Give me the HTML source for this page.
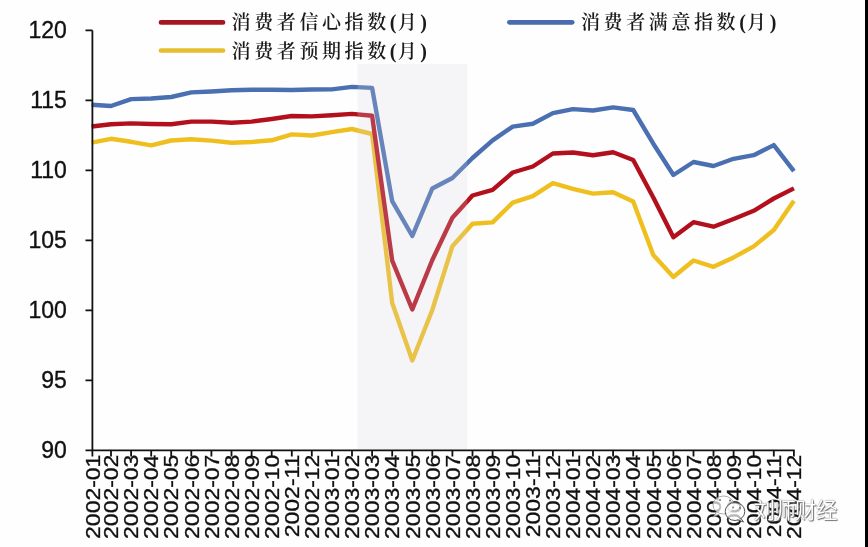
<!DOCTYPE html>
<html><head><meta charset="utf-8"><style>
html,body{margin:0;padding:0;background:#fff;}
body{width:868px;height:547px;overflow:hidden;position:relative;}
.pp{letter-spacing:1.2px;font-size:20px;}
svg{display:block;position:absolute;left:0;top:0;}
.ax{font-family:"Liberation Sans",Arial,sans-serif;font-size:23px;fill:#111;stroke:#111;stroke-width:0.35px;}
.lg{font-family:"Liberation Serif","Noto Serif CJK SC",serif;font-size:19px;fill:#1a1a1a;letter-spacing:3.6px;font-weight:600;}
.wm{position:absolute;left:753.5px;top:493.8px;font-family:"Noto Sans CJK SC",sans-serif;font-size:21.5px;line-height:30px;color:#fff;
 text-shadow:0 0 1px #555,1px 1px 1px #777;letter-spacing:-0.7px;}
</style></head><body>
<svg width="868" height="547" viewBox="0 0 868 547">
<rect x="0" y="0" width="868" height="547" fill="#fefefe"/>
<rect x="865" y="0" width="3" height="547" fill="#000"/>
<g fill="none" stroke-width="4.4" stroke-linejoin="round" stroke-linecap="butt">
<polyline points="91.6,142.6 111.0,138.8 131.1,141.8 151.2,145.3 171.2,140.5 191.3,139.3 211.4,140.6 231.5,142.7 251.6,142.0 271.7,140.3 291.8,134.4 311.8,135.5 331.9,132.2 352.0,129.0 372.1,134.0 392.2,303.0 412.3,360.5 432.3,310.0 452.4,246.2 472.5,223.8 492.6,222.4 512.7,202.6 532.8,196.2 552.9,183.2 572.9,188.8 593.0,193.6 613.1,192.3 633.2,201.5 653.3,255.0 673.4,277.0 693.5,260.5 713.5,266.8 733.6,257.4 753.7,246.4 773.8,230.0 793.9,200.7" stroke="#efbf20"/>
<polyline points="91.6,126.5 111.0,124.3 131.1,123.4 151.2,124.0 171.2,124.3 191.3,121.6 211.4,121.6 231.5,122.8 251.6,121.6 271.7,119.0 291.8,116.0 311.8,116.4 331.9,115.2 352.0,113.9 372.1,115.7 392.2,260.7 412.3,309.5 432.3,260.0 452.4,217.8 472.5,195.5 492.6,189.8 512.7,172.5 532.8,166.5 552.9,153.5 572.9,152.5 593.0,155.2 613.1,152.2 633.2,160.0 653.3,197.5 673.4,237.3 693.5,222.2 713.5,226.7 733.6,219.0 753.7,210.8 773.8,198.5 793.9,188.4" stroke="#b3101e"/>
<polyline points="91.6,104.8 111.0,106.0 131.1,99.1 151.2,98.5 171.2,97.0 191.3,92.4 211.4,91.5 231.5,90.2 251.6,89.8 271.7,89.8 291.8,90.0 311.8,89.5 331.9,89.4 352.0,86.9 372.1,87.9 392.2,201.2 412.3,236.0 432.3,188.5 452.4,178.0 472.5,158.0 492.6,140.4 512.7,126.6 532.8,123.8 552.9,113.1 572.9,109.1 593.0,110.5 613.1,107.4 633.2,110.0 653.3,143.7 673.4,175.0 693.5,162.0 713.5,166.0 733.6,158.8 753.7,155.2 773.8,145.1 793.9,171.1" stroke="#4a70b2"/>
</g>
<rect x="357.6" y="64" width="109.6" height="386" fill="#d4d2dc" fill-opacity="0.22"/>
<path d="M92.4 30.4V456.5M85.5 450.4H794.8M85.5 30.4H92.5M85.5 100.4H92.5M85.5 170.3H92.5M85.5 240.4H92.5M85.5 310.4H92.5M85.5 380.3H92.5M85.5 450.4H92.5M111.0 450.4V456.5M131.1 450.4V456.5M151.2 450.4V456.5M171.2 450.4V456.5M191.3 450.4V456.5M211.4 450.4V456.5M231.5 450.4V456.5M251.6 450.4V456.5M271.7 450.4V456.5M291.8 450.4V456.5M311.8 450.4V456.5M331.9 450.4V456.5M352.0 450.4V456.5M372.1 450.4V456.5M392.2 450.4V456.5M412.3 450.4V456.5M432.3 450.4V456.5M452.4 450.4V456.5M472.5 450.4V456.5M492.6 450.4V456.5M512.7 450.4V456.5M532.8 450.4V456.5M552.9 450.4V456.5M572.9 450.4V456.5M593.0 450.4V456.5M613.1 450.4V456.5M633.2 450.4V456.5M653.3 450.4V456.5M673.4 450.4V456.5M693.5 450.4V456.5M713.5 450.4V456.5M733.6 450.4V456.5M753.7 450.4V456.5M773.8 450.4V456.5M793.9 450.4V456.5" stroke="#111" stroke-width="1.8" fill="none"/>
<g class="ax"><text x="66.8" y="38.4" text-anchor="end">120</text><text x="66.8" y="108.4" text-anchor="end">115</text><text x="66.8" y="178.3" text-anchor="end">110</text><text x="66.8" y="248.4" text-anchor="end">105</text><text x="66.8" y="318.4" text-anchor="end">100</text><text x="66.8" y="388.3" text-anchor="end">95</text><text x="66.8" y="458.4" text-anchor="end">90</text></g>
<g class="ax"><text transform="translate(99.6,454.6) rotate(-90) scale(1,0.91)" text-anchor="end">2002-01</text><text transform="translate(118.2,454.6) rotate(-90) scale(1,0.91)" text-anchor="end">2002-02</text><text transform="translate(138.3,454.6) rotate(-90) scale(1,0.91)" text-anchor="end">2002-03</text><text transform="translate(158.4,454.6) rotate(-90) scale(1,0.91)" text-anchor="end">2002-04</text><text transform="translate(178.4,454.6) rotate(-90) scale(1,0.91)" text-anchor="end">2002-05</text><text transform="translate(198.5,454.6) rotate(-90) scale(1,0.91)" text-anchor="end">2002-06</text><text transform="translate(218.6,454.6) rotate(-90) scale(1,0.91)" text-anchor="end">2002-07</text><text transform="translate(238.7,454.6) rotate(-90) scale(1,0.91)" text-anchor="end">2002-08</text><text transform="translate(258.8,454.6) rotate(-90) scale(1,0.91)" text-anchor="end">2002-09</text><text transform="translate(278.9,454.6) rotate(-90) scale(1,0.91)" text-anchor="end">2002-10</text><text transform="translate(298.9,454.6) rotate(-90) scale(1,0.91)" text-anchor="end">2002-11</text><text transform="translate(319.0,454.6) rotate(-90) scale(1,0.91)" text-anchor="end">2002-12</text><text transform="translate(339.1,454.6) rotate(-90) scale(1,0.91)" text-anchor="end">2003-01</text><text transform="translate(359.2,454.6) rotate(-90) scale(1,0.91)" text-anchor="end">2003-02</text><text transform="translate(379.3,454.6) rotate(-90) scale(1,0.91)" text-anchor="end">2003-03</text><text transform="translate(399.4,454.6) rotate(-90) scale(1,0.91)" text-anchor="end">2003-04</text><text transform="translate(419.5,454.6) rotate(-90) scale(1,0.91)" text-anchor="end">2003-05</text><text transform="translate(439.5,454.6) rotate(-90) scale(1,0.91)" text-anchor="end">2003-06</text><text transform="translate(459.6,454.6) rotate(-90) scale(1,0.91)" text-anchor="end">2003-07</text><text transform="translate(479.7,454.6) rotate(-90) scale(1,0.91)" text-anchor="end">2003-08</text><text transform="translate(499.8,454.6) rotate(-90) scale(1,0.91)" text-anchor="end">2003-09</text><text transform="translate(519.9,454.6) rotate(-90) scale(1,0.91)" text-anchor="end">2003-10</text><text transform="translate(540.0,454.6) rotate(-90) scale(1,0.91)" text-anchor="end">2003-11</text><text transform="translate(560.1,454.6) rotate(-90) scale(1,0.91)" text-anchor="end">2003-12</text><text transform="translate(580.1,454.6) rotate(-90) scale(1,0.91)" text-anchor="end">2004-01</text><text transform="translate(600.2,454.6) rotate(-90) scale(1,0.91)" text-anchor="end">2004-02</text><text transform="translate(620.3,454.6) rotate(-90) scale(1,0.91)" text-anchor="end">2004-03</text><text transform="translate(640.4,454.6) rotate(-90) scale(1,0.91)" text-anchor="end">2004-04</text><text transform="translate(660.5,454.6) rotate(-90) scale(1,0.91)" text-anchor="end">2004-05</text><text transform="translate(680.6,454.6) rotate(-90) scale(1,0.91)" text-anchor="end">2004-06</text><text transform="translate(700.7,454.6) rotate(-90) scale(1,0.91)" text-anchor="end">2004-07</text><text transform="translate(720.7,454.6) rotate(-90) scale(1,0.91)" text-anchor="end">2004-08</text><text transform="translate(740.8,454.6) rotate(-90) scale(1,0.91)" text-anchor="end">2004-09</text><text transform="translate(760.9,454.6) rotate(-90) scale(1,0.91)" text-anchor="end">2004-10</text><text transform="translate(781.0,454.6) rotate(-90) scale(1,0.91)" text-anchor="end">2004-11</text><text transform="translate(801.1,454.6) rotate(-90) scale(1,0.91)" text-anchor="end">2004-12</text></g>
<g stroke-width="4.7" stroke-linecap="round">
<line x1="161" y1="22.4" x2="223" y2="22.4" stroke="#a51522"/>
<line x1="161" y1="50.5" x2="223" y2="50.5" stroke="#e6be30"/>
<line x1="509.4" y1="22.3" x2="572.2" y2="22.3" stroke="#4a6bb0"/>
</g>
<g class="lg">
<text x="231.6" y="29.2">消费者信心指数<tspan class="pp">(</tspan>月<tspan class="pp">)</tspan></text>
<text x="231.6" y="57.7">消费者预期指数<tspan class="pp">(</tspan>月<tspan class="pp">)</tspan></text>
<text x="581" y="29.2">消费者满意指数<tspan class="pp">(</tspan>月<tspan class="pp">)</tspan></text>
</g>
<g fill="#fff" fill-opacity="0.7" stroke="#999" stroke-width="0.8">
<ellipse cx="723.5" cy="505" rx="10.5" ry="9"/>
<path d="M716 512.5 L713.5 517 L719.5 514" />
</g>
<g fill="#fff" fill-opacity="0.7" stroke="#555" stroke-width="1">
<ellipse cx="735" cy="511.5" rx="9.8" ry="9"/>
<path d="M741 518.5 L743.5 522 L737.5 519.8"/>
</g>
<g fill="#777"><circle cx="720" cy="500" r="1.1"/><circle cx="730" cy="500.5" r="1.1"/><circle cx="733" cy="507.5" r="0.9"/><circle cx="740" cy="508" r="1.1"/></g>
</svg>
<div class="wm">刘师财经</div>
</body></html>
